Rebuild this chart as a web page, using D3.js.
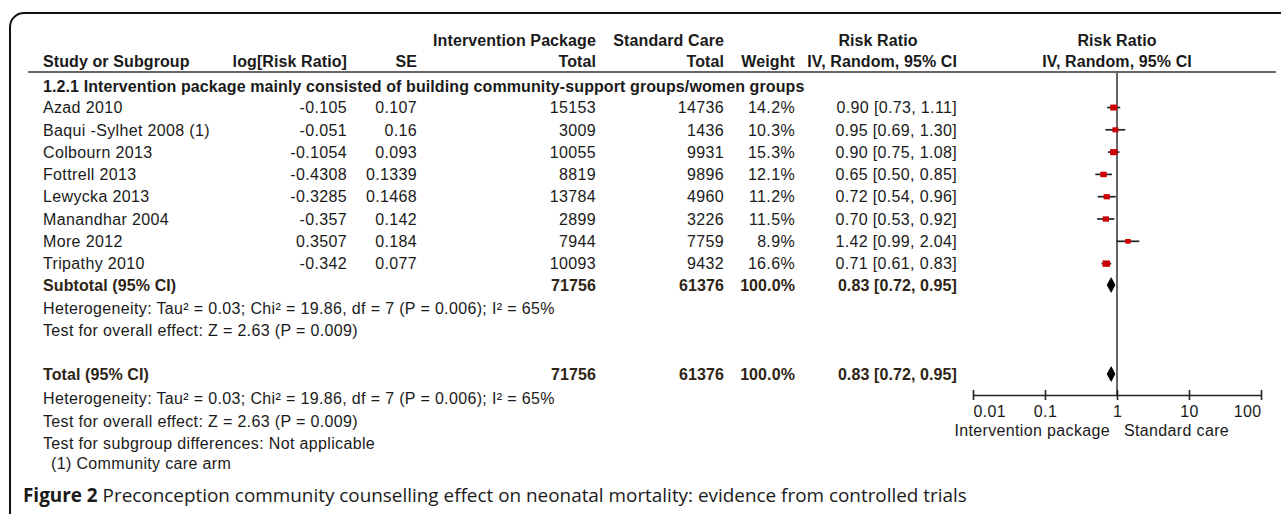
<!DOCTYPE html>
<html><head><meta charset="utf-8">
<script src="https://cdn.jsdelivr.net/npm/d3@7"></script>
<style>
html,body{margin:0;padding:0;background:#fff;}
svg{display:block;}
text{font-family:"Liberation Sans",Arial,sans-serif;font-size:16px;fill:#1a1a1a;letter-spacing:0.35px;}
.b{font-weight:bold;letter-spacing:0.1px;}
.tot{fill:#2e2414;}
.cap{font-family:"Open Sans",sans-serif;font-size:18.9px;fill:#1a1a1a;letter-spacing:0;}
</style></head><body>
<svg id="chart" width="1281" height="514"></svg>
<script>
// ---- data ----
const studies = ["Azad 2010","Baqui -Sylhet 2008 (1)","Colbourn 2013","Fottrell 2013","Lewycka 2013","Manandhar 2004","More 2012","Tripathy 2010"];
const logRR = ["-0.105","-0.051","-0.1054","-0.4308","-0.3285","-0.357","0.3507","-0.342"];
const seValues = ["0.107","0.16","0.093","0.1339","0.1468","0.142","0.184","0.077"];
const interventionTotal = [15153,3009,10055,8819,13784,2899,7944,10093];
const standardTotal = [14736,1436,9931,9896,4960,3226,7759,9432];
const weights = [14.2,10.3,15.3,12.1,11.2,11.5,8.9,16.6];
const rr = [0.90,0.95,0.90,0.65,0.72,0.70,1.42,0.71];
const ciLow = [0.73,0.69,0.75,0.50,0.54,0.53,0.99,0.61];
const ciHigh = [1.11,1.30,1.08,0.85,0.96,0.92,2.04,0.83];
const pooledEstimate = [0.83,0.72,0.95]; // RR, lower, upper
const pooledTotals = [71756,61376];
const pooledWeight = "100.0%";
const axisTicks = [0.01,0.1,1,10,100];
const axisTickLabels = ["0.01","0.1","1","10","100"];
const subgroupTitle = "1.2.1 Intervention package mainly consisted of building community-support groups/women groups";
const heterogeneityText = "Heterogeneity: Tau\u00B2 = 0.03; Chi\u00B2 = 19.86, df = 7 (P = 0.006); I\u00B2 = 65%";
const overallText = "Test for overall effect: Z = 2.63 (P = 0.009)";
const subgroupDiffText = "Test for subgroup differences: Not applicable";
const footnoteText = "(1) Community care arm";
const sideLabels = ["Intervention package","Standard care"];
const captionBold = "Figure 2";
const captionRest = " Preconception community counselling effect on neonatal mortality: evidence from controlled trials";

// ---- layout ----
const svg = d3.select("#chart");
const X = {study:43, log:347, se:417, int:596, std:724, w:795, ci:957, ciMid:878, plotMid:1117};
const Y = {h1:40, h2:61, line:72, title:86, row0:107.5, step:22.3, subtotal:285, het1:308, test1:330,
           total:374, het2:398, test2:421, sub:443, note:463, axis:395, tickLab:411, side:430, caption:495};

function txt(x,y,s,anchor,bold,cls){
  return svg.append("text").attr("x",x).attr("y",y).attr("dy","0.36em")
    .attr("text-anchor",anchor||"start").attr("class",(bold?"b ":"")+(cls||"")).text(s);
}

// frame
svg.append("path").attr("d",`M10,514 L10,27 A14,14 0 0 1 24,13 L1281,13`)
  .attr("fill","none").attr("stroke","#111").attr("stroke-width",2);

// header
txt(X.int,Y.h1,"Intervention Package","end",true);
txt(X.std,Y.h1,"Standard Care","end",true);
txt(X.ciMid,Y.h1,"Risk Ratio","middle",true);
txt(X.plotMid,Y.h1,"Risk Ratio","middle",true);
txt(X.study,Y.h2,"Study or Subgroup","start",true);
txt(X.log,Y.h2,"log[Risk Ratio]","end",true);
txt(X.se,Y.h2,"SE","end",true);
txt(X.int,Y.h2,"Total","end",true);
txt(X.std,Y.h2,"Total","end",true);
txt(X.w,Y.h2,"Weight","end",true);
txt(X.ci,Y.h2,"IV, Random, 95% CI","end",true);
txt(X.plotMid,Y.h2,"IV, Random, 95% CI","middle",true);
svg.append("line").attr("x1",28).attr("x2",1276).attr("y1",Y.line).attr("y2",Y.line)
  .attr("stroke","#333").attr("stroke-width",1.6);

txt(X.study,Y.title,subgroupTitle,"start",true);

const yRow = i => Y.row0 + i*Y.step;
const fmt = d3.format(".2f");
studies.forEach((s,i)=>{
  const y = yRow(i);
  txt(X.study,y,s);
  txt(X.log,y,logRR[i],"end");
  txt(X.se,y,seValues[i],"end");
  txt(X.int,y,interventionTotal[i],"end");
  txt(X.std,y,standardTotal[i],"end");
  txt(X.w,y,weights[i].toFixed(1)+"%","end");
  txt(X.ci,y,`${fmt(rr[i])} [${fmt(ciLow[i])}, ${fmt(ciHigh[i])}]`,"end");
});

// subtotal & total rows
[[Y.subtotal,"Subtotal (95% CI)"],[Y.total,"Total (95% CI)"]].forEach(([y,lab])=>{
  txt(X.study,y,lab,"start",true,"tot");
  txt(X.int,y,pooledTotals[0],"end",true,"tot");
  txt(X.std,y,pooledTotals[1],"end",true,"tot");
  txt(X.w,y,pooledWeight,"end",true,"tot");
  txt(X.ci,y,`${fmt(pooledEstimate[0])} [${fmt(pooledEstimate[1])}, ${fmt(pooledEstimate[2])}]`,"end",true,"tot");
});
txt(X.study,Y.het1,heterogeneityText);
txt(X.study,Y.test1,overallText);
txt(X.study,Y.het2,heterogeneityText);
txt(X.study,Y.test2,overallText);
txt(X.study,Y.sub,subgroupDiffText);
txt(X.study+8,Y.note,footnoteText).attr("fill","#2a2418");

// ---- forest plot ----
const x = d3.scaleLog().domain([0.01,100]).range([973,1261]);
svg.append("line").attr("x1",x(1)).attr("x2",x(1)).attr("y1",Y.line+1).attr("y2",Y.axis)
  .attr("stroke","#333").attr("stroke-width",1.5);

const g = svg.append("g");
studies.forEach((s,i)=>{
  const y = yRow(i);
  g.append("line").attr("x1",x(ciLow[i])).attr("x2",x(ciHigh[i])).attr("y1",y).attr("y2",y)
    .attr("stroke","#222").attr("stroke-width",1.7);
  const side = 1.85*Math.sqrt(weights[i]);
  g.append("rect").attr("x",x(rr[i])-side/2).attr("y",y-side*0.42).attr("width",side).attr("height",side*0.85)
    .attr("fill","#cc0000");
});
[Y.subtotal,Y.total].forEach(y=>{
  const [m,lo,hi] = pooledEstimate;
  g.append("path").attr("d",`M${x(lo)},${y} L${x(m)},${y-8} L${x(hi)},${y} L${x(m)},${y+8} Z`)
    .attr("fill","#000");
});

// axis
const axis = d3.axisBottom(x).tickValues(axisTicks)
  .tickFormat((d,i)=>axisTickLabels[i]).tickSizeInner(5).tickSizeOuter(0).tickPadding(6);
const ag = svg.append("g").attr("transform",`translate(0,${Y.axis})`).call(axis);
ag.select(".domain").attr("stroke","#222").attr("stroke-width",1.6);
ag.selectAll(".tick line").attr("y1",-5).attr("y2",5).attr("stroke","#222").attr("stroke-width",1.6);
ag.selectAll(".tick text").attr("font-family","Liberation Sans, Arial, sans-serif").attr("font-size",16)
  .attr("fill","#1a1a1a").attr("dy","0.36em").attr("y",Y.tickLab-Y.axis)
  .attr("text-anchor",(d,i)=> i===0?"start":(i===axisTicks.length-1?"end":"middle"));
ag.selectAll(".tick").filter((d,i)=>i===0).select("text").attr("x",0);
txt(x(1)-7,Y.side,sideLabels[0],"end").attr("fill","#2a2f3a");
txt(x(1)+7,Y.side,sideLabels[1],"start").attr("fill","#2a2f3a");

// caption
const cap = svg.append("text").attr("x",23).attr("y",Y.caption).attr("dy","0.36em").attr("class","cap");
cap.append("tspan").attr("font-weight","bold").text(captionBold);
cap.append("tspan").text(captionRest);
</script>
</body></html>
